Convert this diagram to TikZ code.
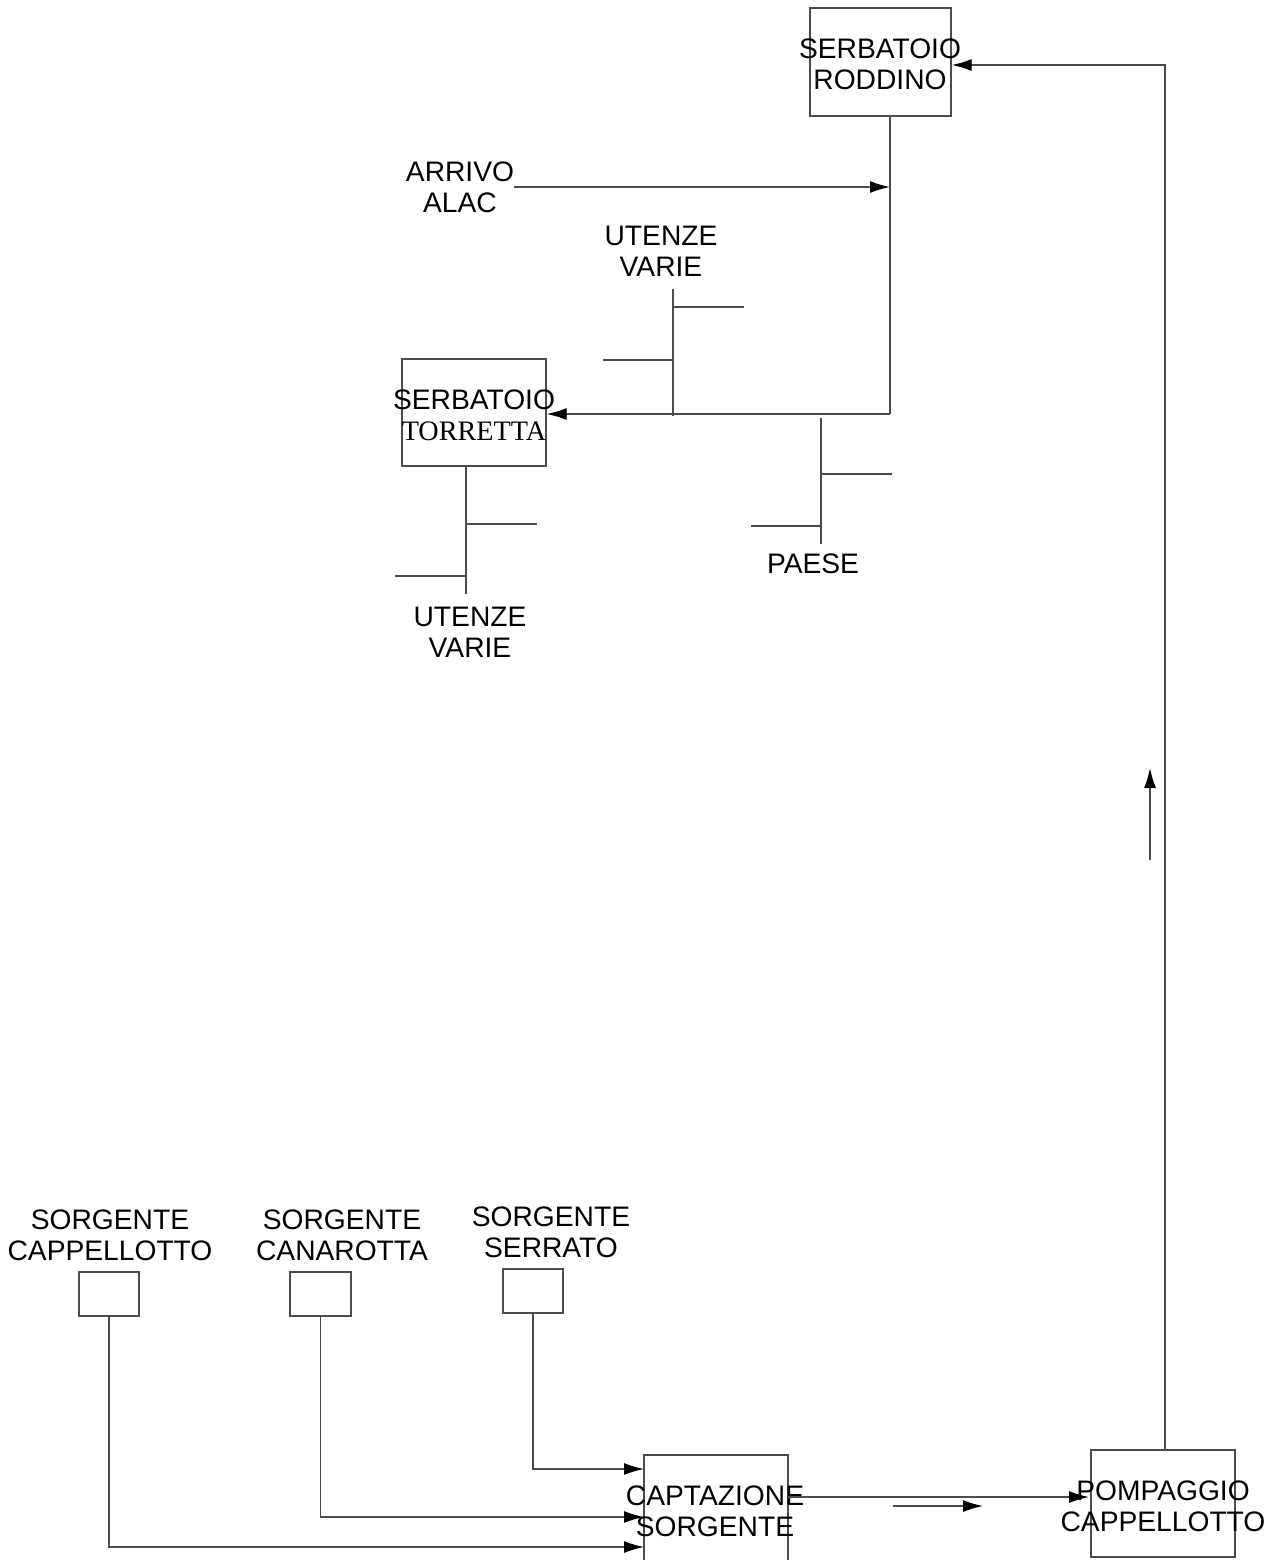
\documentclass[tikz,border=0pt]{standalone}
\usepackage{fontspec}
\setmainfont{Liberation Sans}
\newfontfamily\timesfont{Liberation Serif}
\usetikzlibrary{arrows.meta}
\begin{document}
\begin{tikzpicture}[x=0.5pt,y=-0.5pt,
    pipe/.style={draw=black!70,line width=0.7pt},
    flow/.style={pipe,-{Latex[length=10pt,width=6pt,black]}},
    tank/.style={draw=black!70,line width=0.7pt,rectangle,inner sep=0pt},
    lbl/.style={font=\fontsize{14.1}{15.5}\selectfont,align=center,inner sep=0pt},
]
\useasboundingbox (0,0) rectangle (1281,1560);
% Serbatoi
\node[tank,minimum width=70.5pt,minimum height=54pt] (rod) at (880.5,62) {};
\node[lbl] (rodT) at (880,64) {SERBATOIO\\RODDINO};
\node[tank,minimum width=72pt,minimum height=53.5pt] (tor) at (474,412.5) {};
\node[lbl] (torT) at (474,415) {SERBATOIO\\{\timesfont TORRETTA}};
% Arrivo ALAC
\node[lbl] (alac) at (460,187) {ARRIVO\\ALAC};
\coordinate (alacIn) at (890,187);
\coordinate (jTor) at (890,414);
\draw[pipe] (rod.south -| jTor) -- (jTor);
\draw[flow] (alac.east) -- (alacIn);
\draw[flow] (jTor) -- (tor.east |- jTor);
% Utenze varie (alto)
\node[lbl] (ut1) at (661,251) {UTENZE\\VARIE};
\coordinate (ut1Top) at (673,289);
\coordinate (ut1Bot) at (673,416);
\draw[pipe] (ut1Top) -- (ut1Bot);
\draw[pipe] (673,307) -- (744,307);
\draw[pipe] (603,360) -- (673,360);
% Utenze varie (sotto torretta)
\node[lbl] (ut2) at (470,632) {UTENZE\\VARIE};
\coordinate (ut2Bot) at (466,594);
\draw[pipe] (tor.south -| ut2Bot) -- (ut2Bot);
\draw[pipe] (466,524) -- (537,524);
\draw[pipe] (395,576) -- (466,576);
% Paese
\node[lbl] (paese) at (813,564) {PAESE};
\coordinate (paTop) at (821,418);
\coordinate (paBot) at (821,544);
\draw[pipe] (paTop) -- (paBot);
\draw[pipe] (821,474) -- (892,474);
\draw[pipe] (751,526) -- (821,526);
% Sorgenti
\node[lbl] (capT) at (110,1235) {SORGENTE\\CAPPELLOTTO};
\node[lbl] (canT) at (342,1235) {SORGENTE\\CANAROTTA};
\node[lbl] (serT) at (551,1232) {SORGENTE\\SERRATO};
\node[tank,minimum width=30pt,minimum height=22pt] (cap) at (109,1294) {};
\node[tank,minimum width=30.5pt,minimum height=22pt] (can) at (320.5,1294) {};
\node[tank,minimum width=30pt,minimum height=22pt] (ser) at (533,1291) {};
% Captazione e pompaggio
\node[tank,minimum width=72pt,minimum height=53pt] (capt) at (716,1508) {};
\node[lbl] (captT) at (715,1511) {CAPTAZIONE\\SORGENTE};
\node[tank,minimum width=72pt,minimum height=53.5pt] (pomp) at (1163,1503.5) {};
\node[lbl] (pompT) at (1163,1506) {POMPAGGIO\\CAPPELLOTTO};
\coordinate (inSer) at (644,1469);
\coordinate (inCan) at (644,1517);
\coordinate (inCap) at (644,1547);
\draw[flow] (ser.south) |- (inSer);
\draw[flow] (can.south) |- (inCan);
\draw[flow] (cap.south) |- (inCap);
\coordinate (captOut) at (788,1497);
\coordinate (pompIn) at (1089,1497);
\draw[flow] (captOut) -- (pompIn);
\draw[flow] (893,1506) -- (983,1506);
% Mandata al serbatoio Roddino
\coordinate (riseBot) at (1165,1450);
\coordinate (riseTop) at (1165,65);
\draw[flow] (riseBot) -- (riseTop) -- (rod.east |- riseTop);
\draw[flow] (1150,860) -- (1150,768);
\end{tikzpicture}
\end{document}
